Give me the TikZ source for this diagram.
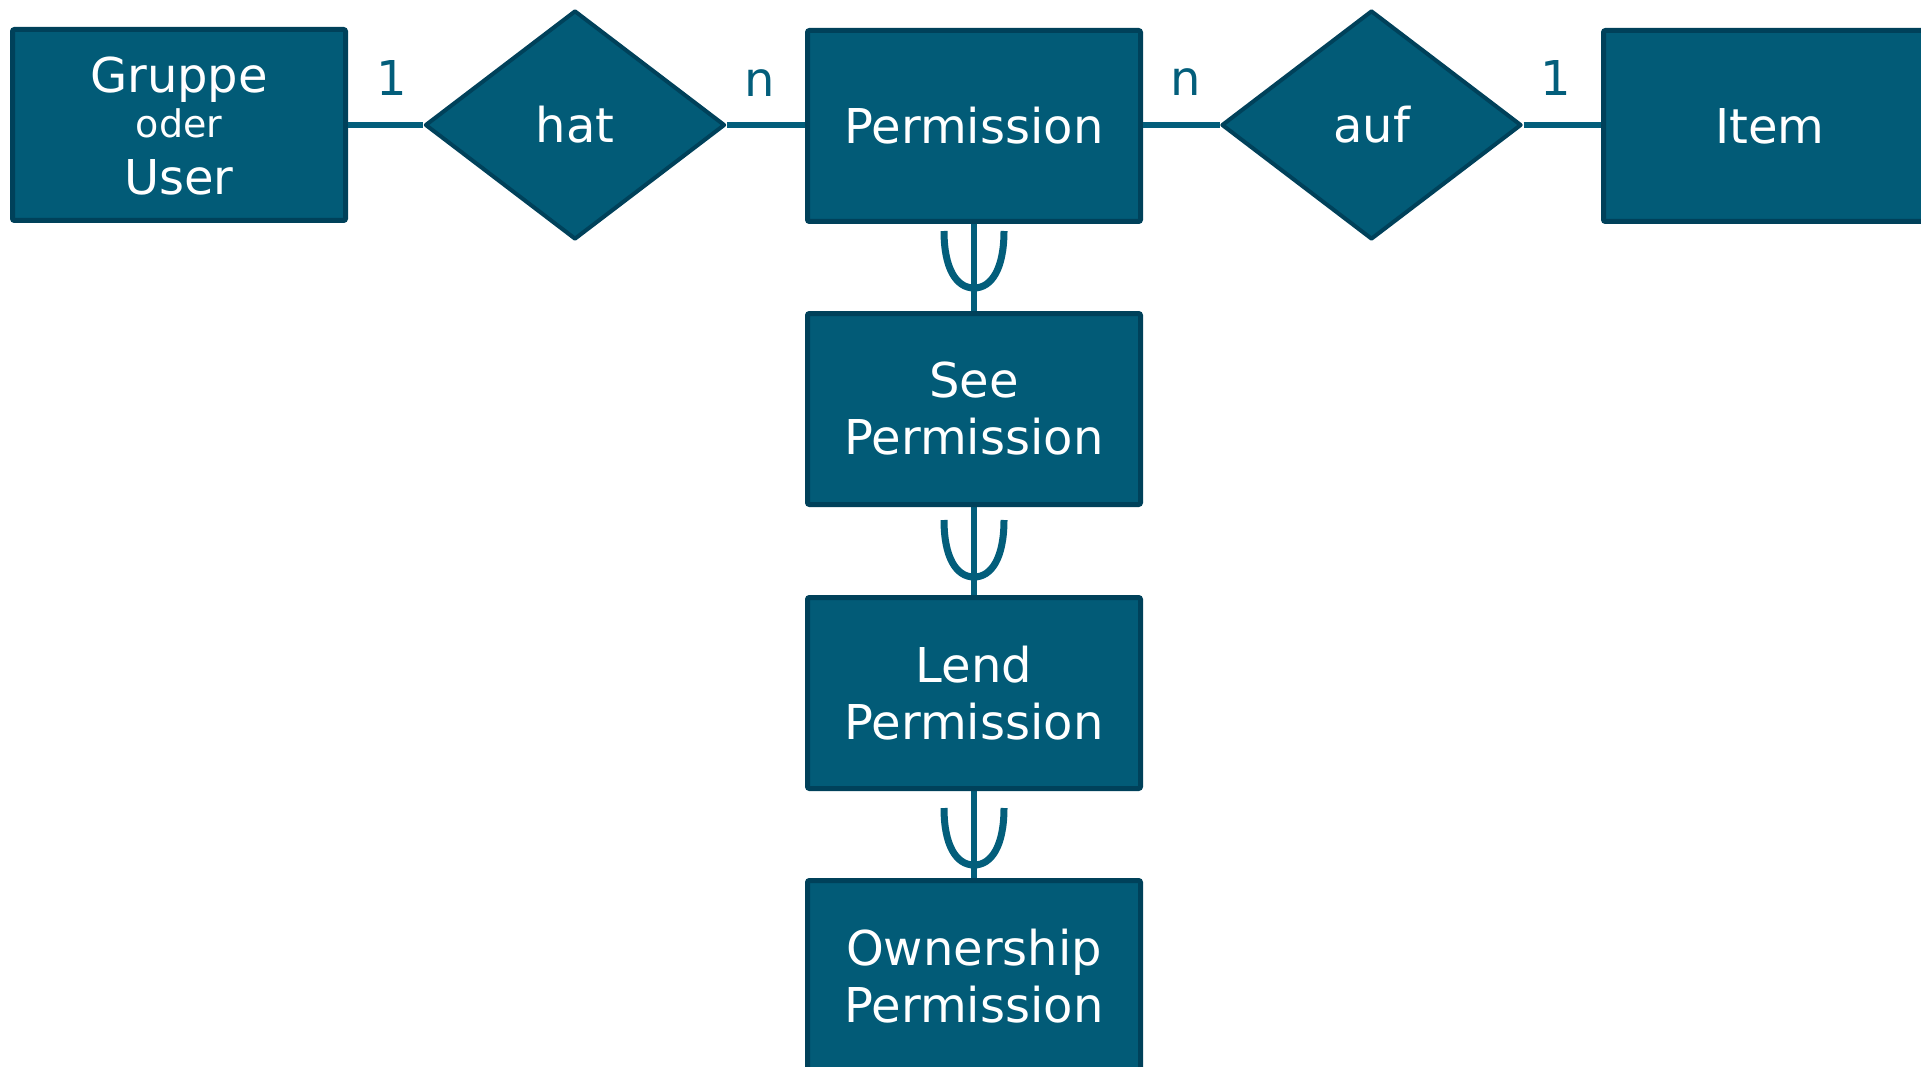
\documentclass[tikz,border=0pt]{standalone}
\usepackage{fontspec}
\setmainfont{DejaVu Sans}
\usetikzlibrary{shapes.geometric}
\definecolor{boxfill}{HTML}{025B77}
\definecolor{boxline}{HTML}{00415A}
\definecolor{conn}{HTML}{035E7B}
\tikzset{
  entity/.style={rectangle, draw=boxline, fill=boxfill, line width=5pt, rounded corners=2pt,
    minimum width=333pt, minimum height=191pt, inner sep=0pt, text=white, align=center,
    font=\fontsize{48}{57}\selectfont},
  relation/.style={diamond, draw=boxline, fill=boxfill, line width=4pt, line join=round,
    minimum width=300pt, minimum height=229pt, inner sep=0pt, text=white,
    font=\fontsize{48}{57}\selectfont},
  card/.style={anchor=base, text=conn, font=\fontsize{48}{57}\selectfont, inner sep=0pt},
  inner/.style={anchor=base, text=white, inner sep=0pt},
  link/.style={draw=conn, line width=6pt},
  subsetsym/.pic={\draw[conn, line width=7pt] (-30,0) .. controls (-30,37) and (-18,57) .. (0,57) .. controls (18,57) and (30,37) .. (30,0);}
}
\begin{document}
\begin{tikzpicture}[x=1pt,y=-1pt]
\useasboundingbox (0,0) rectangle (1921,1067);
% connectors first (underneath)
\coordinate (c1) at (974,222);
\coordinate (c2) at (974,312);
\coordinate (c3) at (974,504);
\coordinate (c4) at (974,597);
\coordinate (c5) at (974,788);
\coordinate (c6) at (974,878);
\draw[link] (c1) -- (c2);
\draw[link] (c3) -- (c4);
\draw[link] (c5) -- (c6);
\pic at (974,231) {subsetsym};
\pic at (974,520) {subsetsym};
\pic at (974,808) {subsetsym};
% entities
\node[entity] (gu) at (179,125) {};
\node[inner, font=\fontsize{48}{57}\selectfont] (gutxt1) at (179,93) {Gruppe};
\node[inner, font=\fontsize{38}{40}\selectfont] (gutxt2) at (179,138) {oder};
\node[inner, font=\fontsize{48}{57}\selectfont] (gutxt3) at (179,195) {User};
\node[relation] (hat) at (575,125) {hat};
\node[entity] (perm) at (974,126) {Permission};
\node[relation] (auf) at (1371.5,125) {auf};
\node[entity] (item) at (1770,126) {Item};
\node[entity] (see) at (974,409) {See\\Permission};
\node[entity] (lend) at (974,693) {Lend\\Permission};
\node[entity] (own) at (974,976) {Ownership\\Permission};
% horizontal connectors
\draw[link] (gu.east) -- (gu.east -| hat.west);
\draw[link] (hat.east) -- (hat.east -| perm.west);
\draw[link] (perm.east |- auf.west) -- (auf.west);
\draw[link] (auf.east) -- (auf.east -| item.west);
% cardinalities
\node[card] (k1) at (392,96) {1};
\node[card] (k2) at (760,97) {n};
\node[card] (k3) at (1186,96) {n};
\node[card] (k4) at (1556,96) {1};
\end{tikzpicture}
\end{document}
